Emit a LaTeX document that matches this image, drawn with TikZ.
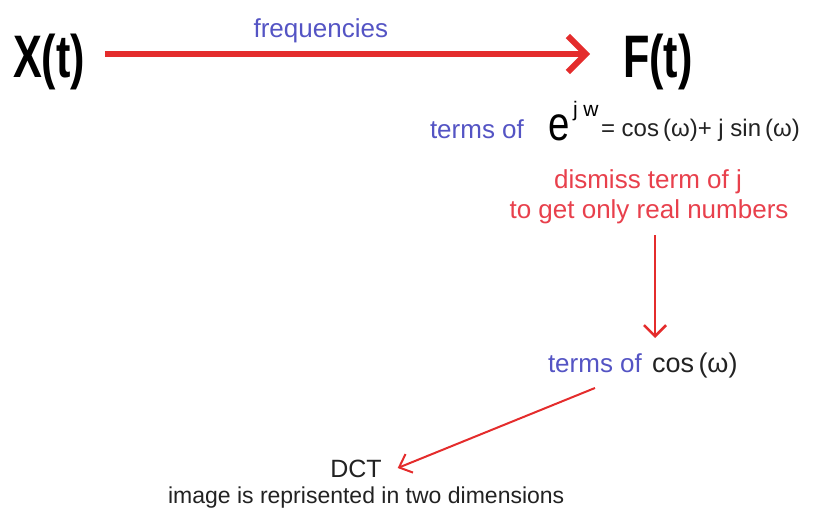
\documentclass[tikz,border=0pt]{standalone}
\usepackage{fontspec}
\setmainfont{Liberation Sans}
\usetikzlibrary{arrows.meta}
\definecolor{arrowred}{RGB}{228,44,44}
\definecolor{textred}{RGB}{232,64,76}
\definecolor{textblue}{RGB}{84,84,196}
\definecolor{textdark}{RGB}{34,34,34}
\tikzset{
  lbl/.style={inner sep=0pt, outer sep=0pt},
  bigsym/.style={lbl, text=black, font=\fontsize{60}{60}\selectfont\bfseries, xscale=0.72},
  bluetxt/.style={lbl, text=textblue, font=\fontsize{26}{30}\selectfont},
  redtxt/.style={lbl, text=textred, font=\fontsize{26}{30}\selectfont},
  darktxt/.style={lbl, text=textdark, font=\fontsize{24}{28}\selectfont},
  mainarrow/.style={draw=arrowred, line width=6pt,
    -{Straight Barb[length=18pt, width=36pt, line width=6pt]}},
  thinarrow/.style={draw=arrowred, line width=2.6pt,
    -{Straight Barb[length=11pt, width=22pt, line width=2.6pt]}},
  slimarrow/.style={draw=arrowred, line width=2pt,
    -{Straight Barb[length=11pt, width=20pt, line width=2pt]}},
}
\begin{document}
\begin{tikzpicture}[x=1pt, y=-1pt]
  \useasboundingbox (0,0) rectangle (818,516);

  % signal and transform
  \node[bigsym, anchor=base west] (X) at (13,78) {X(t)};
  \node[bigsym, anchor=base west] (F) at (623,78) {F(t)};
  \draw[mainarrow] ([shift={(20pt,24pt)}]X.base east) -- ([shift={(-33pt,24pt)}]F.base west)
    node[bluetxt, pos=0.445, anchor=base, yshift=16pt] (freq) {frequencies};

  % Euler's formula
  \node[bluetxt, anchor=base west] (t1) at (430,138) {terms of};
  \node[lbl, anchor=base west, font=\fontsize{48}{48}\selectfont, xscale=0.8] (e) at (548,140) {e};
  \node[lbl, anchor=base west, font=\fontsize{21}{21}\selectfont] (jw) at (573,117) {j w};
  \node[darktxt, anchor=base west] (euler) at (601,136) {= cos\,(ω)+ j sin\,(ω)};

  % dropping the imaginary part
  \node[redtxt, anchor=base] (d1) at (648,188) {dismiss term of j};
  \node[redtxt, anchor=base] (d2) at (649,218) {to get only real numbers};

  % cosine terms
  \node[bluetxt, anchor=base west] (t2) at (548,372) {terms of};
  \node[lbl, text=textdark, font=\fontsize{27}{30}\selectfont, anchor=base west] (c2) at (652,372) {cos\,(ω)};
  \coordinate (vs) at ([shift={(6pt,-17pt)}]d2.base);
  \coordinate (ve) at ([yshift=34pt]t2.base east);
  \draw[thinarrow] (vs) -- (vs |- ve);

  % DCT
  \node[lbl, text=textdark, font=\fontsize{25}{28}\selectfont, anchor=base] (dct) at (356,477) {DCT};
  \node[lbl, text=textdark, font=\fontsize{23}{26}\selectfont, anchor=base west] (img) at (168,503) {image is reprisented in two dimensions};
  \draw[slimarrow] ([yshift=-16pt]t2.base) -- ([shift={(16pt,9pt)}]dct.base east);
\end{tikzpicture}
\end{document}
